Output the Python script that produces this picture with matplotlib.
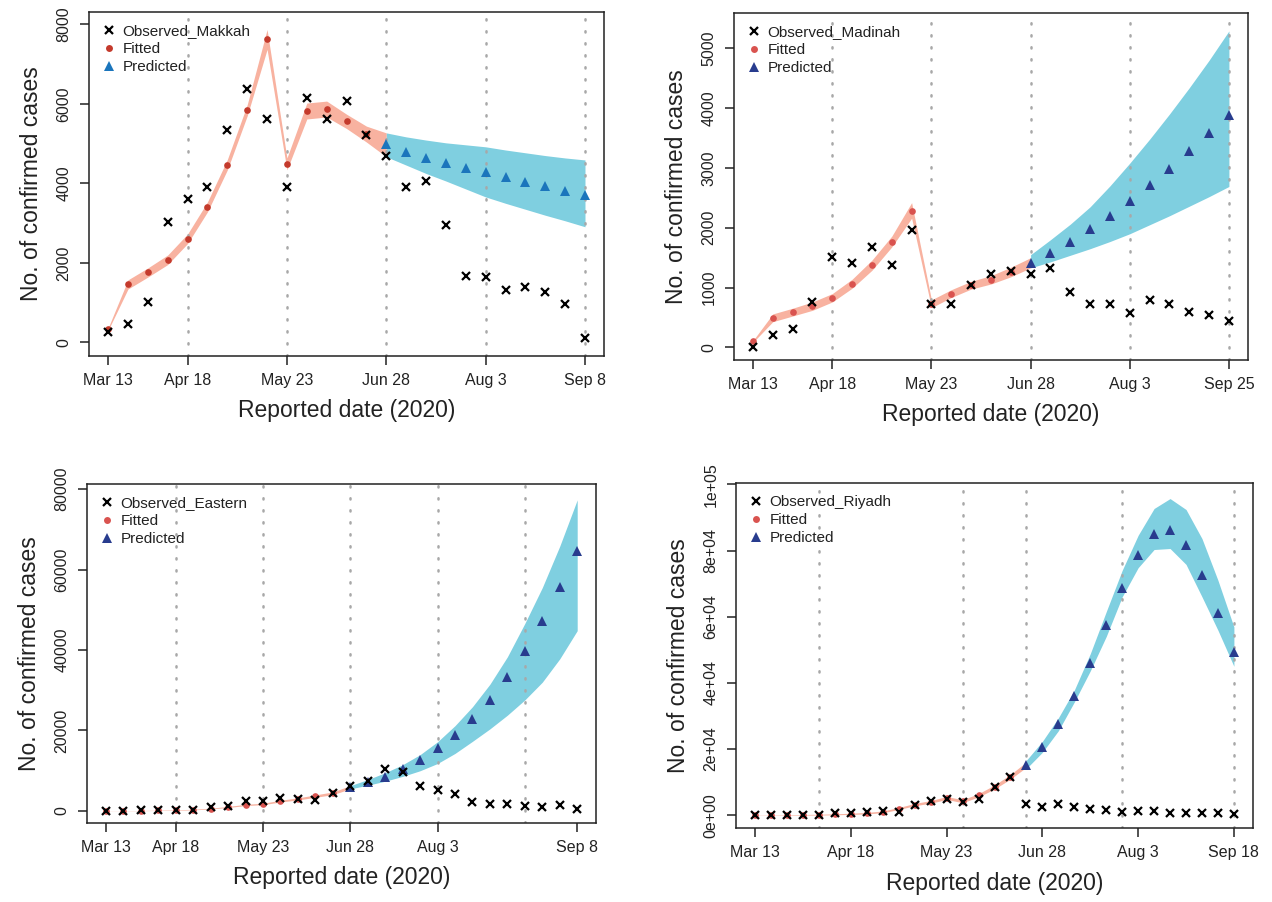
import matplotlib
matplotlib.use("Agg")
import matplotlib.pyplot as plt
from matplotlib.lines import Line2D
import numpy as np

plt.rcParams["font.family"] = ["Liberation Sans", "DejaVu Sans"]

# ---- Makkah ----
mak_obs = [260, 460, 1010, 3030, 3610, 3910, 5340, 6380, 5620, 3910, 6150, 5620, 6080,
           5220, 4690, 3910, 4060, 2950, 1680, 1640, 1320, 1400, 1270, 960, 110]
mak_fit = [335, 1460, 1760, 2080, 2610, 3410, 4470, 5840, 7620, 4490, 5820, 5870, 5560, 5240]
mak_fit_lo = [305, 1345, 1645, 1960, 2490, 3285, 4340, 5700, 7370, 4340, 5620, 5670, 5380, 5040, 4670]
mak_fit_hi = [365, 1575, 1875, 2200, 2730, 3535, 4600, 5980, 7870, 4640, 6020, 6070, 5740, 5440, 5270]
mak_pred = [4990, 4800, 4650, 4520, 4400, 4280, 4160, 4040, 3930, 3810, 3700]
mak_pred_lo = [4670, 4460, 4250, 4060, 3860, 3660, 3500, 3350, 3200, 3060, 2910]
mak_pred_hi = [5270, 5170, 5090, 5020, 4970, 4920, 4840, 4770, 4700, 4640, 4590]
mak_ticks = [0, 4, 9, 14, 19, 24]
mak_labels = ["Mar 13", "Apr 18", "May 23", "Jun 28", "Aug 3", "Sep 8"]
mak_vlines = [4, 9, 14, 19, 24]
mak_yticks = [0, 2000, 4000, 6000, 8000]

# ---- Madinah ----
mad_obs = [5, 205, 315, 755, 1510, 1415, 1680, 1370, 1970, 720, 720, 1040, 1230,
           1270, 1220, 1330, 920, 730, 730, 570, 800, 730, 590, 545, 435]
mad_fit = [100, 495, 590, 690, 830, 1065, 1375, 1770, 2280, 730, 900, 1040, 1130, 1260]
mad_fit_lo = [85, 430, 525, 620, 760, 990, 1290, 1680, 2160, 665, 835, 975, 1060, 1180, 1330]
mad_fit_hi = [115, 560, 655, 760, 900, 1140, 1460, 1860, 2420, 795, 965, 1105, 1200, 1340, 1500]
mad_pred = [1415, 1580, 1770, 1985, 2200, 2450, 2715, 2980, 3280, 3580, 3880]
mad_pred_lo = [1330, 1430, 1540, 1650, 1770, 1900, 2050, 2200, 2360, 2520, 2690]
mad_pred_hi = [1550, 1800, 2060, 2350, 2700, 3080, 3480, 3900, 4340, 4800, 5290]
mad_ticks = [0, 4, 9, 14, 19, 24]
mad_labels = ["Mar 13", "Apr 18", "May 23", "Jun 28", "Aug 3", "Sep 25"]
mad_vlines = [4, 9, 14, 19, 24]
mad_yticks = [0, 1000, 2000, 3000, 4000, 5000]

# ---- Eastern ----
eas_obs = [50, 100, 150, 200, 250, 250, 900, 1320, 2400, 2480, 3150, 2900, 2730, 4390,
           6170, 7530, 10350, 9770, 6290, 5220, 4150, 2320, 1820, 1820, 1320, 920, 1570, 500]
eas_fit = [30, 60, 100, 160, 240, 350, 600, 1000, 1500, 1750, 2450, 3000, 3700, 4400]
eas_fit_lo = [20, 40, 70, 120, 180, 270, 500, 870, 1340, 1570, 2230, 2740, 3400, 4060, 5500]
eas_fit_hi = [40, 80, 130, 200, 300, 430, 700, 1130, 1660, 1930, 2670, 3260, 4000, 4740, 6300]
eas_pred = [5880, 7130, 8520, 10430, 12670, 15580, 18880, 22860, 27650, 33290, 39750,
            47200, 55570, 64670]
eas_pred_lo = [5500, 6400, 7400, 8600, 10000, 11800, 14300, 17300, 20400, 23800, 27600,
               32000, 37800, 44800]
eas_pred_hi = [6300, 7800, 9500, 11500, 14000, 17200, 21200, 25900, 31500, 38300, 46600,
               55500, 65800, 77300]
eas_ticks = [0, 4, 9, 14, 19, 27]
eas_labels = ["Mar 13", "Apr 18", "May 23", "Jun 28", "Aug 3", "Sep 8"]
eas_vlines = [4, 9, 14, 19, 24]
eas_yticks = [0, 20000, 40000, 60000, 80000]

# ---- Riyadh ----
riy_obs = [0, 0, 50, 50, 100, 500, 500, 800, 1300, 800, 3000, 4300, 5000, 4000, 4800, 8400,
           11600, 3300, 2400, 3300, 2500, 1800, 1600, 1000, 1100, 1200, 700, 700, 700, 600, 400]
riy_fit = [0, 30, 60, 100, 150, 250, 400, 600, 1000, 2000, 3200, 4000, 5200, 4200, 6000,
           8500, 11600]
riy_fit_lo = [0, 0, 0, 0, 30, 100, 220, 380, 740, 1700, 2850, 3600, 4750, 3750, 5500,
              7900, 10900, 14500]
riy_fit_hi = [50, 90, 140, 200, 270, 400, 580, 820, 1260, 2300, 3550, 4400, 5650, 4650,
              6500, 9100, 12300, 16100]
riy_pred = [15300, 20600, 27400, 36000, 46000, 57400, 68800, 78600, 84900, 86100, 81700,
            72700, 61200, 49200]
riy_pred_lo = [14100, 19000, 25500, 34200, 43600, 54000, 66000, 74800, 80300, 80600, 75800,
               66000, 55900, 45000]
riy_pred_hi = [16600, 22300, 29400, 37800, 48800, 61500, 74000, 84600, 92700, 95700, 92400,
               83600, 71000, 56900]
riy_ticks = [0, 6, 12, 18, 24, 30]
riy_labels = ["Mar 13", "Apr 18", "May 23", "Jun 28", "Aug 3", "Sep 18"]
riy_vlines = [4, 13, 17, 23, 30]
riy_yticks = [0, 20000, 40000, 60000, 80000, 100000]
riy_ylabels = ["0e+00", "2e+04", "4e+04", "6e+04", "8e+04", "1e+05"]

PINK = "#F8B2A0"
CYAN = "#7FCFE0"


def panel(ax, name, obs, fit, fit_lo, fit_hi, pred, pred_lo, pred_hi,
          ticks, labels, vlines, ylim, fit_col, pred_col, yticks, ylabels=None):
    n_obs = len(obs)
    x_obs = np.arange(n_obs)
    x_fit = np.arange(len(fit))
    x_band = np.arange(len(fit_lo))
    x_pred = np.arange(n_obs - len(pred), n_obs)

    ax.fill_between(x_band, fit_lo, fit_hi, color=PINK, lw=0, zorder=1)
    ax.fill_between(x_pred, pred_lo, pred_hi, color=CYAN, lw=0, zorder=1)
    for v in vlines:
        ax.axvline(v, color="#a8a8a8", lw=1.8, ls=(0, (0.5, 4.3)),
                   dash_capstyle="round", zorder=2)
    ax.plot(x_obs, obs, ls="none", marker="x", ms=6, mew=1.6, color="black", zorder=4)
    ax.plot(x_fit, fit, ls="none", marker="o", ms=4.8, mew=0, color=fit_col, zorder=3)
    ax.plot(x_pred, pred, ls="none", marker="^", ms=6.5, mew=0, color=pred_col, zorder=3)

    pad = 0.04 * (n_obs - 1)
    ax.set_xlim(-pad, n_obs - 1 + pad)
    ax.set_ylim(*ylim)
    ax.set_xticks(ticks)
    ax.set_xticklabels(labels)
    ax.set_yticks(yticks)
    if ylabels is not None:
        ax.set_yticklabels(ylabels)
    else:
        ax.set_yticklabels([str(t) for t in yticks])
    for lab in ax.get_yticklabels():
        lab.set_rotation(90)
        lab.set_va("center")
    ax.tick_params(length=6.5, width=1.1, labelsize=11.5, pad=6, colors="#222222",
                   labelcolor="#222222")
    for s in ax.spines.values():
        s.set_linewidth(1.1)
        s.set_color("#222222")
    ax.set_xlabel("Reported date (2020)", fontsize=16.5, labelpad=8, color="#222222")
    ax.set_ylabel("No. of confirmed cases", fontsize=16.5, labelpad=10, color="#222222")

    handles = [
        Line2D([], [], ls="none", marker="x", ms=6, mew=1.6, color="black"),
        Line2D([], [], ls="none", marker="o", ms=5, mew=0, color=fit_col),
        Line2D([], [], ls="none", marker="^", ms=6.5, mew=0, color=pred_col),
    ]
    ax.legend(handles, ["Observed_" + name, "Fitted", "Predicted"], loc="upper left",
              frameon=False, fontsize=11, handlelength=1.0, handletextpad=0.4,
              labelspacing=0.25, borderaxespad=0.5, borderpad=0.3, labelcolor="#222222")


fig = plt.figure(figsize=(12.72, 9.02), dpi=100)
ax1 = fig.add_axes([0.0700, 0.6053, 0.4049, 0.3814])
ax2 = fig.add_axes([0.5770, 0.6009, 0.4041, 0.3847])
ax3 = fig.add_axes([0.0684, 0.0876, 0.4002, 0.3758])
ax4 = fig.add_axes([0.5786, 0.0820, 0.4065, 0.3825])

panel(ax1, "Makkah", mak_obs, mak_fit, mak_fit_lo, mak_fit_hi, mak_pred, mak_pred_lo,
      mak_pred_hi, mak_ticks, mak_labels, mak_vlines, (-340, 8310), "#C43A2C", "#1B75BC",
      mak_yticks)
panel(ax2, "Madinah", mad_obs, mad_fit, mad_fit_lo, mad_fit_hi, mad_pred, mad_pred_lo,
      mad_pred_hi, mad_ticks, mad_labels, mad_vlines, (-210, 5590), "#D9534F", "#283C8E",
      mad_yticks)
panel(ax3, "Eastern", eas_obs, eas_fit, eas_fit_lo, eas_fit_hi, eas_pred, eas_pred_lo,
      eas_pred_hi, eas_ticks, eas_labels, eas_vlines, (-2980, 81240), "#D9534F", "#283C8E",
      eas_yticks)
panel(ax4, "Riyadh", riy_obs, riy_fit, riy_fit_lo, riy_fit_hi, riy_pred, riy_pred_lo,
      riy_pred_hi, riy_ticks, riy_labels, riy_vlines, (-3900, 100400), "#D9534F", "#283C8E",
      riy_yticks, riy_ylabels)

fig.savefig("out.png", dpi=100)
